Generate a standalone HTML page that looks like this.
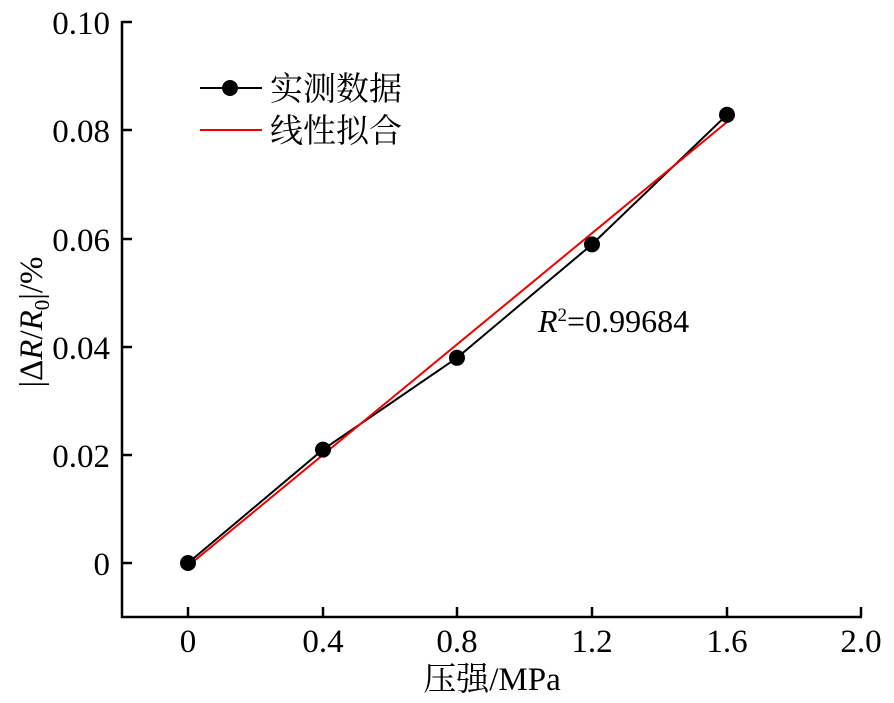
<!DOCTYPE html>
<html><head><meta charset="utf-8"><style>
body{margin:0;background:#fff;}
svg text{font-family:"Liberation Serif","Noto Serif CJK SC",serif;fill:#000;}
</style></head><body>
<svg width="894" height="698" xmlns="http://www.w3.org/2000/svg">
<g stroke="#000" stroke-width="2.5" fill="none">
<polyline points="122,21 122,617 862,617"/>
<line x1="122" y1="22" x2="132" y2="22"/>
<line x1="122" y1="130" x2="132" y2="130"/>
<line x1="122" y1="239" x2="132" y2="239"/>
<line x1="122" y1="347" x2="132" y2="347"/>
<line x1="122" y1="455" x2="132" y2="455"/>
<line x1="122" y1="563" x2="132" y2="563"/>
<line x1="188" y1="617" x2="188" y2="607"/>
<line x1="323" y1="617" x2="323" y2="607"/>
<line x1="457" y1="617" x2="457" y2="607"/>
<line x1="592" y1="617" x2="592" y2="607"/>
<line x1="727" y1="617" x2="727" y2="607"/>
<line x1="861" y1="617" x2="861" y2="607"/>
</g>
<g font-size="33" text-anchor="end">
<text x="110" y="34">0.10</text>
<text x="110" y="142">0.08</text>
<text x="110" y="251">0.06</text>
<text x="110" y="359">0.04</text>
<text x="110" y="467">0.02</text>
<text x="110" y="575">0</text>
</g>
<g font-size="33" text-anchor="middle">
<text x="188" y="652">0</text>
<text x="323" y="652">0.4</text>
<text x="457" y="652">0.8</text>
<text x="592" y="652">1.2</text>
<text x="727" y="652">1.6</text>
<text x="861" y="652">2.0</text>
<text x="492" y="690">压强/MPa</text>
</g>
<text transform="translate(42,322) rotate(-90)" font-size="33" text-anchor="middle">|Δ<tspan font-style="italic">R</tspan>/<tspan font-style="italic">R</tspan><tspan font-size="21" dy="7">0</tspan><tspan dy="-7">|/%</tspan></text>
<polyline points="188,563 323,449.6 457,357.8 592,244.4 727,114.8" fill="none" stroke="#000" stroke-width="2"/>
<line x1="188" y1="566" x2="727" y2="122" stroke="#e00" stroke-width="2"/>
<g fill="#000">
<circle cx="188" cy="563" r="8"/><circle cx="323" cy="449.6" r="8"/><circle cx="457" cy="357.8" r="8"/><circle cx="592" cy="244.4" r="8"/><circle cx="727" cy="114.8" r="8"/>
<circle cx="230" cy="88" r="8"/>
</g>
<line x1="200" y1="88" x2="262" y2="88" stroke="#000" stroke-width="2"/>
<line x1="200" y1="130" x2="262" y2="130" stroke="#e00" stroke-width="2"/>
<text x="270" y="100" font-size="33">实测数据</text>
<text x="270" y="142" font-size="33">线性拟合</text>
<text x="538" y="332" font-size="32"><tspan font-style="italic">R</tspan><tspan font-size="19" dy="-11">2</tspan><tspan dy="11">=0.99684</tspan></text>
</svg>
</body></html>
